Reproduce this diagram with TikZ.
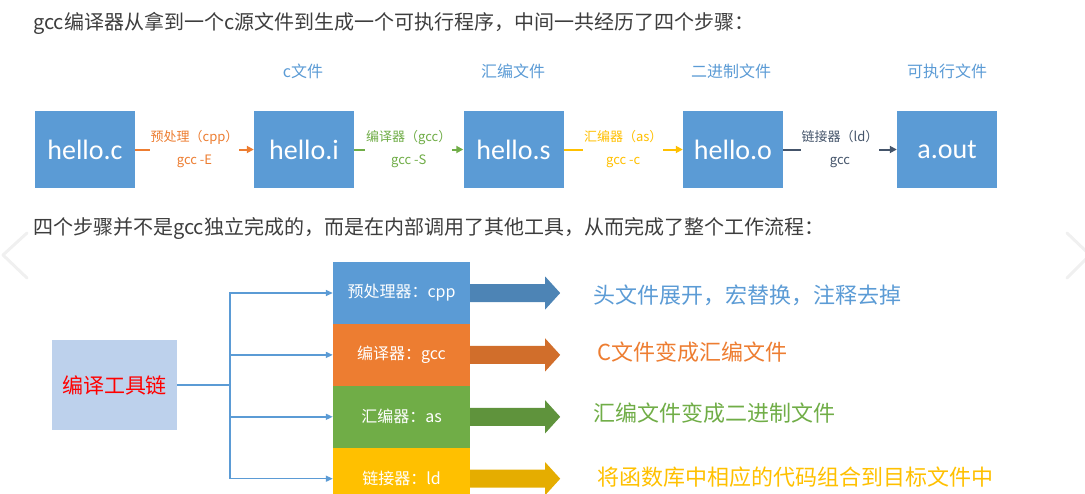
\documentclass[tikz,border=0pt]{standalone}
\usepackage{fontspec}
\setmainfont{Noto Sans CJK SC}
\newfontfamily\boxfont{Carlito}
\usepackage{tikz}
\usetikzlibrary{arrows.meta,positioning}
\definecolor{boxblue}{HTML}{5B9BD5}
\definecolor{boxorange}{HTML}{ED7D31}
\definecolor{boxgreen}{HTML}{70AD47}
\definecolor{boxgold}{HTML}{FFC000}
\definecolor{linkgray}{HTML}{44546A}
\definecolor{chainblue}{HTML}{BDD1EC}
\definecolor{introgray}{HTML}{3D3D3D}

\begin{document}
\begin{tikzpicture}[x=1pt,y=-1pt,
		filebox/.style={fill=boxblue,text=white,minimum width=100pt,minimum height=77pt,inner sep=0pt,font=\boxfont\fontsize{28}{30}\selectfont},
		filetag/.style={text=boxblue,inner sep=0pt,font=\fontsize{16}{18}\selectfont},
		steplabel/.style={fill=white,align=center,inner sep=1pt,font=\fontsize{13}{23}\selectfont},
		stepline/.style={line width=2pt,-{Triangle[length=7pt,width=7pt]}},
		toolbox/.style={minimum width=137pt,minimum height=61.5pt,text=white,inner sep=0pt,font=\fontsize{16}{18}\selectfont},
		branch/.style={draw=boxblue,line width=1.5pt,-{Triangle[length=7pt,width=6pt]}},
		desc/.style={anchor=west,inner sep=0pt,font=\fontsize{22}{24}\selectfont},
		intro/.style={anchor=west,text=introgray,inner sep=0pt,font=\fontsize{20}{22}\selectfont}]
	\newcommand{\blockArrow}[2]{
		\fill[#2] (#1.east) ++(0,-9) -- ++(75,0) -- ++(0,-7.5) -- ++(15,16.5) -- ++(-15,16.5) -- ++(0,-7.5) -- ++(-75,0) -- cycle;
	}
	\useasboundingbox (0,0) rectangle (1085,493);
	\clip (0,0) rectangle (1085,493);
	
	% carousel chevrons
	\draw[gray!12,line width=3pt,line cap=round,line join=round] (27,233) -- (3,255) -- (27,278);
	\draw[gray!12,line width=3pt,line cap=round,line join=round] (1067,233) -- (1090,255) -- (1067,278);
	
	\node[intro] (introA) at (33,23) {gcc编译器从拿到一个c源文件到生成一个可执行程序，中间一共经历了四个步骤：};
	
	% the four steps
	\node[filebox] (hc) at (85,149.5) {hello.c};
	\node[filebox] (hi) at (304,149.5) {hello.i};
	\node[filebox] (hs) at (513.5,149.5) {hello.s};
	\node[filebox] (ho) at (733,149.5) {hello.o};
	\node[filebox] (ao) at (947,149.5) {a.out};
	
	\node[filetag] (tagi) at (303,71) {c文件};
	\node[filetag] (tags) at (513,71) {汇编文件};
	\node[filetag] (tago) at (731,71) {二进制文件};
	\node[filetag] (taga) at (947,71) {可执行文件};
	
	\draw[stepline,boxorange] (hc) -- (hi) node[midway,steplabel,text=boxorange] {预处理（cpp）\\gcc -E};
	\draw[stepline,boxgreen] (hi) -- (hs) node[midway,steplabel,text=boxgreen] {编译器（gcc）\\gcc -S};
	\draw[stepline,boxgold] (hs) -- (ho) node[midway,steplabel,text=boxgold] {汇编器（as）\\gcc -c};
	\draw[stepline,linkgray] (ho) -- (ao) node[midway,steplabel,text=linkgray] {链接器（ld）\\gcc};
	
	\node[intro] (introB) at (33,229) {四个步骤并不是gcc独立完成的，而是在内部调用了其他工具，从而完成了整个工作流程：};
	
	% the tool chain
	\node[fill=chainblue,text=red,minimum width=125pt,minimum height=90pt,inner sep=0pt,font=\fontsize{21}{23}\selectfont] (chain) at (114.5,385) {编译工具链};
	
	\node[toolbox,fill=boxblue] (pp) at (401.5,293) {预处理器：cpp};
	\node[toolbox,fill=boxorange,below=0pt of pp] (cc) {编译器：gcc};
	\node[toolbox,fill=boxgreen,below=0pt of cc] (as) {汇编器：as};
	\node[toolbox,fill=boxgold,below=0pt of as] (ld) {链接器：ld};
	
	\coordinate (fork) at (230,385);
	\foreach \tool in {pp,cc,as,ld}{
		\draw[branch] (chain.east) -- (fork) |- (\tool.west);
	}
	
	\blockArrow{pp}{boxblue!85!black}
	\blockArrow{cc}{boxorange!88!black}
	\blockArrow{as}{boxgreen!85!black}
	\blockArrow{ld}{boxgold!90!black}
	
	\node[desc,text=boxblue] (ppdesc) at (593,295) {头文件展开，宏替换，注释去掉};
	\node[desc,text=boxorange] (ccdesc) at (597,352) {C文件变成汇编文件};
	\node[desc,text=boxgreen] (asdesc) at (593,413) {汇编文件变成二进制文件};
	\node[desc,text=boxgold] (lddesc) at (597,477) {将函数库中相应的代码组合到目标文件中};
\end{tikzpicture}
\end{document}
